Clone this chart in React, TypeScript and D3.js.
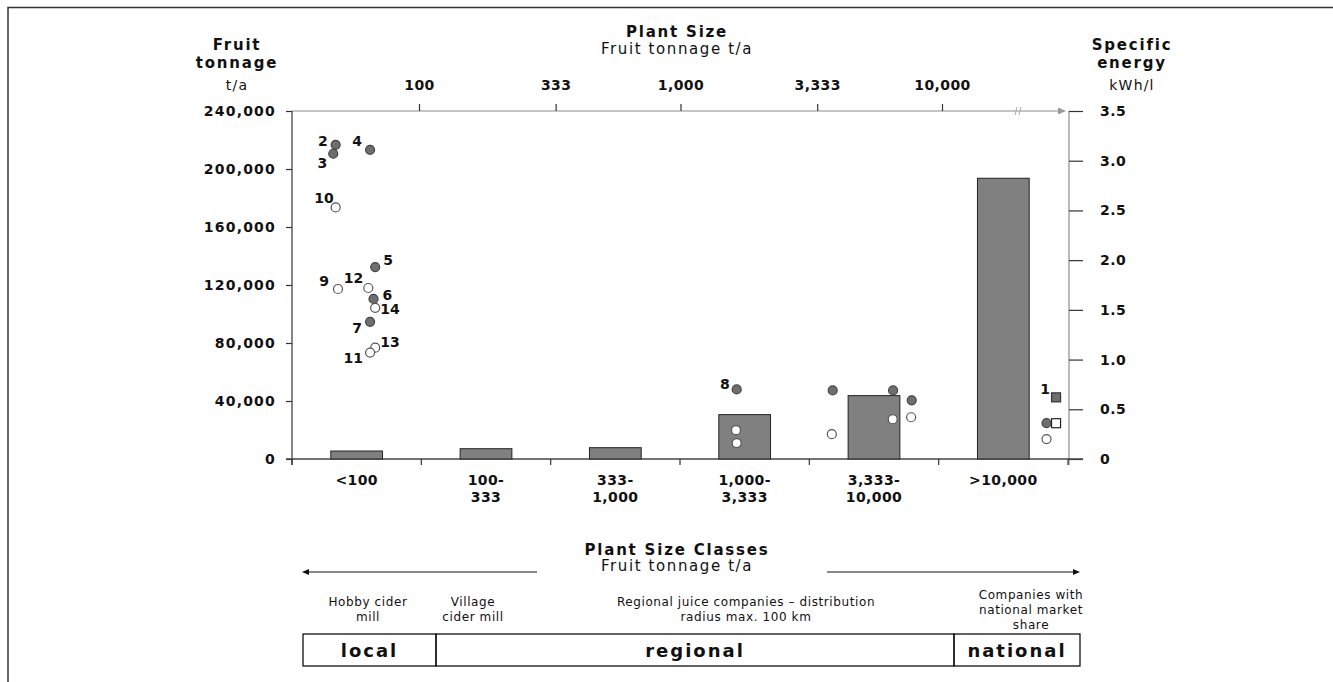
import React, { useEffect, useRef } from "react";
import * as d3 from "d3";

// plant size classes (bottom axis) and mean fruit tonnage per class
const sizeClasses = ["<100", "100-333", "333-1,000", "1,000-3,333", "3,333-10,000", ">10,000"];
const classLines = [["<100"], ["100-", "333"], ["333-", "1,000"], ["1,000-", "3,333"], ["3,333-", "10,000"], [">10,000"]];
const classTonnage = [5500, 7100, 7800, 30600, 43700, 193600];

const tonnageTicks = [0, 40000, 80000, 120000, 160000, 200000, 240000];
const energyTicks = [0, 0.5, 1, 1.5, 2, 2.5, 3, 3.5];
const plantSizeTicks = [100, 333, 1000, 3333, 10000];

// single plants: size in t/a, specific energy in kWh/l
const plants = [
  { id: 2, size: 48, energy: 3.16, filled: true, shape: "circle" },
  { id: 3, size: 47, energy: 3.07, filled: true, shape: "circle" },
  { id: 4, size: 65, energy: 3.11, filled: true, shape: "circle" },
  { id: 10, size: 48, energy: 2.53, filled: false, shape: "circle" },
  { id: 5, size: 68, energy: 1.93, filled: true, shape: "circle" },
  { id: 9, size: 49, energy: 1.71, filled: false, shape: "circle" },
  { id: 12, size: 64, energy: 1.72, filled: false, shape: "circle" },
  { id: 6, size: 67, energy: 1.61, filled: true, shape: "circle" },
  { id: 14, size: 68, energy: 1.52, filled: false, shape: "circle" },
  { id: 7, size: 65, energy: 1.38, filled: true, shape: "circle" },
  { id: 13, size: 68, energy: 1.12, filled: false, shape: "circle" },
  { id: 11, size: 65, energy: 1.07, filled: false, shape: "circle" },
  { id: 8, size: 1640, energy: 0.7, filled: true, shape: "circle" },
  { id: 0, size: 1630, energy: 0.29, filled: false, shape: "circle" },
  { id: 0, size: 1640, energy: 0.16, filled: false, shape: "circle" },
  { id: 0, size: 3820, energy: 0.69, filled: true, shape: "circle" },
  { id: 0, size: 3790, energy: 0.25, filled: false, shape: "circle" },
  { id: 0, size: 6500, energy: 0.69, filled: true, shape: "circle" },
  { id: 0, size: 6480, energy: 0.4, filled: false, shape: "circle" },
  { id: 0, size: 7660, energy: 0.59, filled: true, shape: "circle" },
  { id: 0, size: 7620, energy: 0.42, filled: false, shape: "circle" },
  { id: 1, size: 27300, energy: 0.62, filled: true, shape: "square" },
  { id: 0, size: 25100, energy: 0.36, filled: true, shape: "circle" },
  { id: 0, size: 27300, energy: 0.36, filled: false, shape: "square" },
  { id: 0, size: 25100, energy: 0.2, filled: false, shape: "circle" },
];

// where the number sits next to its point: dx, dy, anchor
const labelPlace: Record<number, [number, number, string]> = {
  2: [-8, 1, "end"], 3: [-6, 14, "end"], 4: [-8, -4, "end"], 10: [-2, -4, "end"],
  5: [8, -2, "start"], 9: [-9, -3, "end"], 12: [-5, -5, "end"], 6: [9, 1, "start"],
  14: [5, 6, "start"], 7: [-8, 11, "end"], 13: [5, -1, "start"], 11: [-7, 10, "end"],
  8: [-7, 0, "end"], 1: [-6, -3, "end"],
};

const tiers = [
  { label: "local", from: 303, to: 436, note: ["Hobby cider", "mill"], noteX: 368 },
  { label: "regional", from: 436, to: 954, note: ["Regional juice companies \u2013 distribution", "radius max. 100 km"], noteX: 746 },
  { label: "national", from: 954, to: 1080, note: ["Companies with", "national market", "share"], noteX: 1031 },
];

const FONT = "DejaVu Sans";

export default function App() {
  const ref = useRef<SVGSVGElement>(null);

  useEffect(() => {
    const svg = d3.select(ref.current);
    svg.selectAll("*").remove();
    svg.attr("font-family", FONT);

    const left = 292, right = 1069, top = 111, bottom = 459;

    const xBand = d3.scaleBand().domain(sizeClasses).range([left, right - 1]);
    const xSize = d3.scaleLog().domain([100, 10000]).range([419, 942]);
    const yTon = d3.scaleLinear().domain([0, 240000]).range([bottom, top]);
    const yEnergy = d3.scaleLinear().domain([0, 3.5]).range([bottom, top]);

    const text = (x: number, y: number, s: string, size: number, bold: boolean, anchor = "middle", ls = 1.5) =>
      svg.append("text")
        .attr("x", x).attr("y", y)
        .attr("text-anchor", anchor)
        .attr("font-size", size)
        .attr("font-weight", bold ? "bold" : "normal")
        .attr("letter-spacing", ls)
        .attr("fill", "#111")
        .text(s);

    // frame
    svg.append("path").attr("d", "M8,682V7.5H1333").attr("fill", "none").attr("stroke", "#333").attr("stroke-width", 1.5);

    // titles
    text(237, 50, "Fruit", 15, true, "middle", 1.8);
    text(237, 68, "tonnage", 15, true, "middle", 1.8);
    text(237, 90, "t/a", 14, false, "middle", 1.2);
    text(1132, 50, "Specific", 15, true, "middle", 1.8);
    text(1132, 68, "energy", 15, true, "middle", 1.8);
    text(1132, 90, "kWh/l", 14, false, "middle", 1.2);
    text(677, 37, "Plant Size", 15, true, "middle", 1.8);
    text(677, 54, "Fruit tonnage t/a", 15, false, "middle", 1.6);

    const styleAxis = (ls: number) => (g: any) => {
      g.attr("font-family", FONT).attr("font-size", 14).attr("font-weight", "bold");
      g.select(".domain").remove();
      g.selectAll(".tick line").attr("stroke", "#333").attr("stroke-width", 1.2);
      g.selectAll(".tick text").attr("fill", "#111").attr("letter-spacing", ls);
    };

    // top axis (plant size, log)
    svg.append("line").attr("x1", left).attr("x2", 1060).attr("y1", top).attr("y2", top).attr("stroke", "#8c8c8c").attr("stroke-width", 1.2);
    svg.append("path").attr("d", `M1058,${top - 3.5}L1066,${top}L1058,${top + 3.5}Z`).attr("fill", "#999");
    [1015, 1019].forEach((x) =>
      svg.append("line").attr("x1", x).attr("x2", x + 2).attr("y1", top + 4).attr("y2", top - 4).attr("stroke", "#aaa"));
    svg.append("g").attr("transform", `translate(0,${top})`)
      .call(d3.axisTop(xSize).tickValues(plantSizeTicks).tickFormat(d3.format(",")).tickSize(7).tickPadding(14))
      .call(styleAxis(0.4));

    // left axis
    svg.append("line").attr("x1", left).attr("x2", left).attr("y1", top).attr("y2", bottom + 6).attr("stroke", "#444").attr("stroke-width", 1.3);
    svg.append("g").attr("transform", `translate(${left},0)`)
      .call(d3.axisLeft(yTon).tickValues(tonnageTicks).tickFormat(d3.format(",")).tickSize(6).tickPadding(10))
      .call(styleAxis(1.2));

    // right axis
    svg.append("line").attr("x1", right).attr("x2", right).attr("y1", top).attr("y2", bottom + 6).attr("stroke", "#8c8c8c").attr("stroke-width", 1.2);
    svg.append("g").attr("transform", `translate(${right},0)`)
      .call(d3.axisRight(yEnergy).tickValues(energyTicks)
        .tickFormat((d: any) => (d === 0 ? "0" : d3.format(".1f")(d))).tickSize(14).tickPadding(17))
      .call(styleAxis(0.5));

    // bottom axis with class boundaries
    svg.append("line").attr("x1", left - 6).attr("x2", right + 14).attr("y1", bottom).attr("y2", bottom).attr("stroke", "#444").attr("stroke-width", 1.3);
    const bounds = sizeClasses.map((c) => xBand(c) as number).concat([xBand.range()[1]]);
    svg.append("g").selectAll("line").data(bounds).join("line")
      .attr("x1", (d) => d).attr("x2", (d) => d)
      .attr("y1", bottom).attr("y2", bottom + 6)
      .attr("stroke", "#333").attr("stroke-width", 1.2);

    classLines.forEach((lines, i) => {
      const cx = (xBand(sizeClasses[i]) as number) + xBand.bandwidth() / 2;
      lines.forEach((l, j) => text(cx, 485 + j * 17, l, 14, true, "middle", 0.4));
    });

    // bars
    const bw = xBand.bandwidth() * 0.4;
    svg.append("g").selectAll("rect").data(classTonnage).join("rect")
      .attr("x", (d, i) => (xBand(sizeClasses[i]) as number) + (xBand.bandwidth() - bw) / 2)
      .attr("y", (d) => yTon(d))
      .attr("width", bw)
      .attr("height", (d) => bottom - yTon(d))
      .attr("fill", "#808080")
      .attr("stroke", "#222")
      .attr("stroke-width", 1);

    // plants
    const pg = svg.append("g");
    plants.forEach((p) => {
      const x = xSize(p.size), y = yEnergy(p.energy);
      const fill = p.filled ? "#6e6e6e" : "#fff";
      const stroke = p.filled ? "#444" : "#555";
      if (p.shape === "square") {
        pg.append("rect").attr("x", x - 4.5).attr("y", y - 4.5).attr("width", 9).attr("height", 9)
          .attr("fill", fill).attr("stroke", p.filled ? "#333" : "#222").attr("stroke-width", 1.2);
      } else {
        pg.append("circle").attr("cx", x).attr("cy", y).attr("r", 4.5)
          .attr("fill", fill).attr("stroke", stroke).attr("stroke-width", 1.2);
      }
      const lp = labelPlace[p.id];
      if (lp) text(x + lp[0], y + lp[1], String(p.id), 14, true, lp[2], 0);
    });

    // plant size classes footer
    text(677, 555, "Plant Size Classes", 15, true, "middle", 1.8);
    text(677, 571, "Fruit tonnage t/a", 15, false, "middle", 1.6);
    const ay = 572;
    svg.append("line").attr("x1", 308).attr("x2", 537).attr("y1", ay).attr("y2", ay).attr("stroke", "#111").attr("stroke-width", 1.2);
    svg.append("path").attr("d", `M302,${ay}L309,${ay - 3}L309,${ay + 3}Z`).attr("fill", "#111");
    svg.append("line").attr("x1", 827).attr("x2", 1074).attr("y1", ay).attr("y2", ay).attr("stroke", "#111").attr("stroke-width", 1.2);
    svg.append("path").attr("d", `M1080,${ay}L1073,${ay - 3}L1073,${ay + 3}Z`).attr("fill", "#111");

    const boxTop = 634, boxBottom = 666;
    tiers.forEach((t) => {
      svg.append("rect").attr("x", t.from).attr("y", boxTop).attr("width", t.to - t.from).attr("height", boxBottom - boxTop)
        .attr("fill", "none").attr("stroke", "#111").attr("stroke-width", 1.3);
      text((t.from + t.to) / 2, 657, t.label, 18, true, "middle", 2);
      const n = t.note.length;
      t.note.forEach((l, j) => text(t.noteX, 621 - (n - 1 - j) * 15 + (n === 3 ? 8 : 0), l, 12, false, "middle", 0.6));
    });
    ["Village", "cider mill"].forEach((l, j) => text(473, 606 + j * 15, l, 12, false, "middle", 0.6));
  }, []);

  return (
    <svg ref={ref} width={1333} height={682} style={{ position: "absolute", left: 0, top: 0, background: "#fff" }} />
  );
}
